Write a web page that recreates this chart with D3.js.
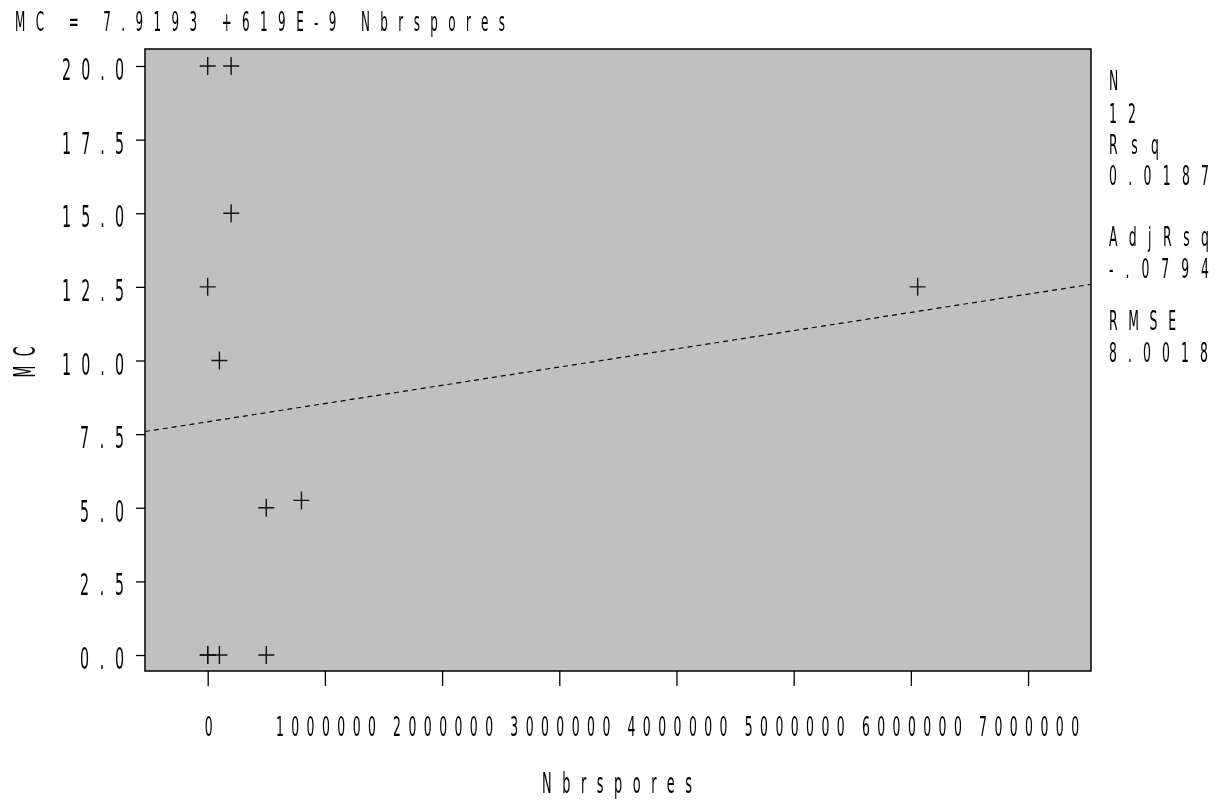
<!DOCTYPE html>
<html><head><meta charset="utf-8">
<script src="https://cdn.jsdelivr.net/npm/d3@7"></script>
<style>body{margin:0;background:#fff}svg{filter:grayscale(1)}text{font-family:"DejaVu Sans",sans-serif;font-weight:normal;fill:#000}</style>
</head><body><svg id="c" width="1219" height="803"></svg>
<script>
const nbrspores = [0, 200000, 200000, 0, 100000, 500000, 800000, 0, 0, 100000, 500000, 6058000];
const mc        = [20, 20, 15, 12.5, 10, 5, 5.25, 0, 0, 0, 0, 12.5];
const xTicks = [0, 1000000, 2000000, 3000000, 4000000, 5000000, 6000000, 7000000];
const yTicks = [0, 2.5, 5, 7.5, 10, 12.5, 15, 17.5, 20];
const intercept = 7.9193, slope = 619e-9;
const titleText = "MC = 7.9193 +619E-9 Nbrspores";
const statLabels = ["N", "Rsq", "AdjRsq", "RMSE"];
const statValues = ["12", "0.0187", "-.0794", "8.0018"];

const svg = d3.select("#c");
const L = 145, R = 1091, T = 49, B = 671;
const x = d3.scaleLinear().domain([-535000, 7537000]).range([L, R]);
const y = d3.scaleLinear().domain([-0.543, 20.577]).range([B, T]);

function stxt(str, tx, ty, w, size, anchor, rot) {
  const sx = 0.46;
  const g = svg.append("g").attr("transform", `translate(${tx},${ty})${rot ? " rotate(" + rot + ")" : ""} scale(${sx},1)`);
  const t = g.append("text").attr("text-anchor", anchor).attr("font-size", size).text(str);
  if (str.length > 1 && w) t.attr("textLength", w / sx).attr("lengthAdjust", "spacing");
  return t;
}

svg.append("rect").attr("x", L).attr("y", T).attr("width", R - L).attr("height", B - T)
  .attr("fill", "#c0c0c0").attr("stroke", "#000").attr("stroke-width", 1.5);

// y axis
const yAxis = d3.axisLeft(y).tickValues(yTicks).tickSize(9).tickFormat("");
svg.append("g").attr("transform", `translate(${L},0)`).call(yAxis)
  .call(g => { g.select(".domain").remove(); g.selectAll("line").attr("stroke", "#000").attr("stroke-width", 1.3); });
yTicks.forEach(v => {
  const s = d3.format(".1f")(v);
  stxt(s, 124, y(v) + 14, 18 * (s.length - 1) + 8, 31, "end");
});

// x axis
const xAxis = d3.axisBottom(x).tickValues(xTicks).tickSize(15).tickFormat("");
svg.append("g").attr("transform", `translate(0,${B})`).call(xAxis)
  .call(g => { g.select(".domain").remove(); g.selectAll("line").attr("stroke", "#000").attr("stroke-width", 1.3); });
xTicks.forEach(v => {
  const s = String(v);
  stxt(s, x(v) + 1, 736, 100, 27, "middle");
});

// regression line
const dom = x.domain();
svg.append("line").attr("x1", x(dom[0])).attr("y1", y(intercept + slope * dom[0]))
  .attr("x2", x(dom[1])).attr("y2", y(intercept + slope * dom[1]))
  .attr("stroke", "#000").attr("stroke-width", 1.2).attr("stroke-dasharray", "5,4");

// points
const pts = svg.append("g");
nbrspores.forEach((v, i) => {
  const cx = x(v), cy = y(mc[i]);
  pts.append("path").attr("d", `M${cx - 8},${cy}H${cx + 8}M${cx},${cy - 9}V${cy + 9}`)
    .attr("stroke", "#111").attr("stroke-width", 1.4).attr("fill", "none");
});

// titles
stxt(titleText, 15, 31, 490, 26, "start");
stxt("Nbrspores", 617, 793, 150, 28, "middle");
stxt("MC", 35, 362, 31, 30, "middle", -90);

// stats
const labY = [90, 154, 246, 330], valY = [123, 185, 278, 362];
const labW = [12, 50, 100, 67], valW = [27, 100, 100, 99];
statLabels.forEach((s, i) => {
  stxt(s, 1109, labY[i], labW[i], 27, "start");
  stxt(statValues[i], 1109, valY[i], valW[i], 27, "start");
});
</script></body></html>
